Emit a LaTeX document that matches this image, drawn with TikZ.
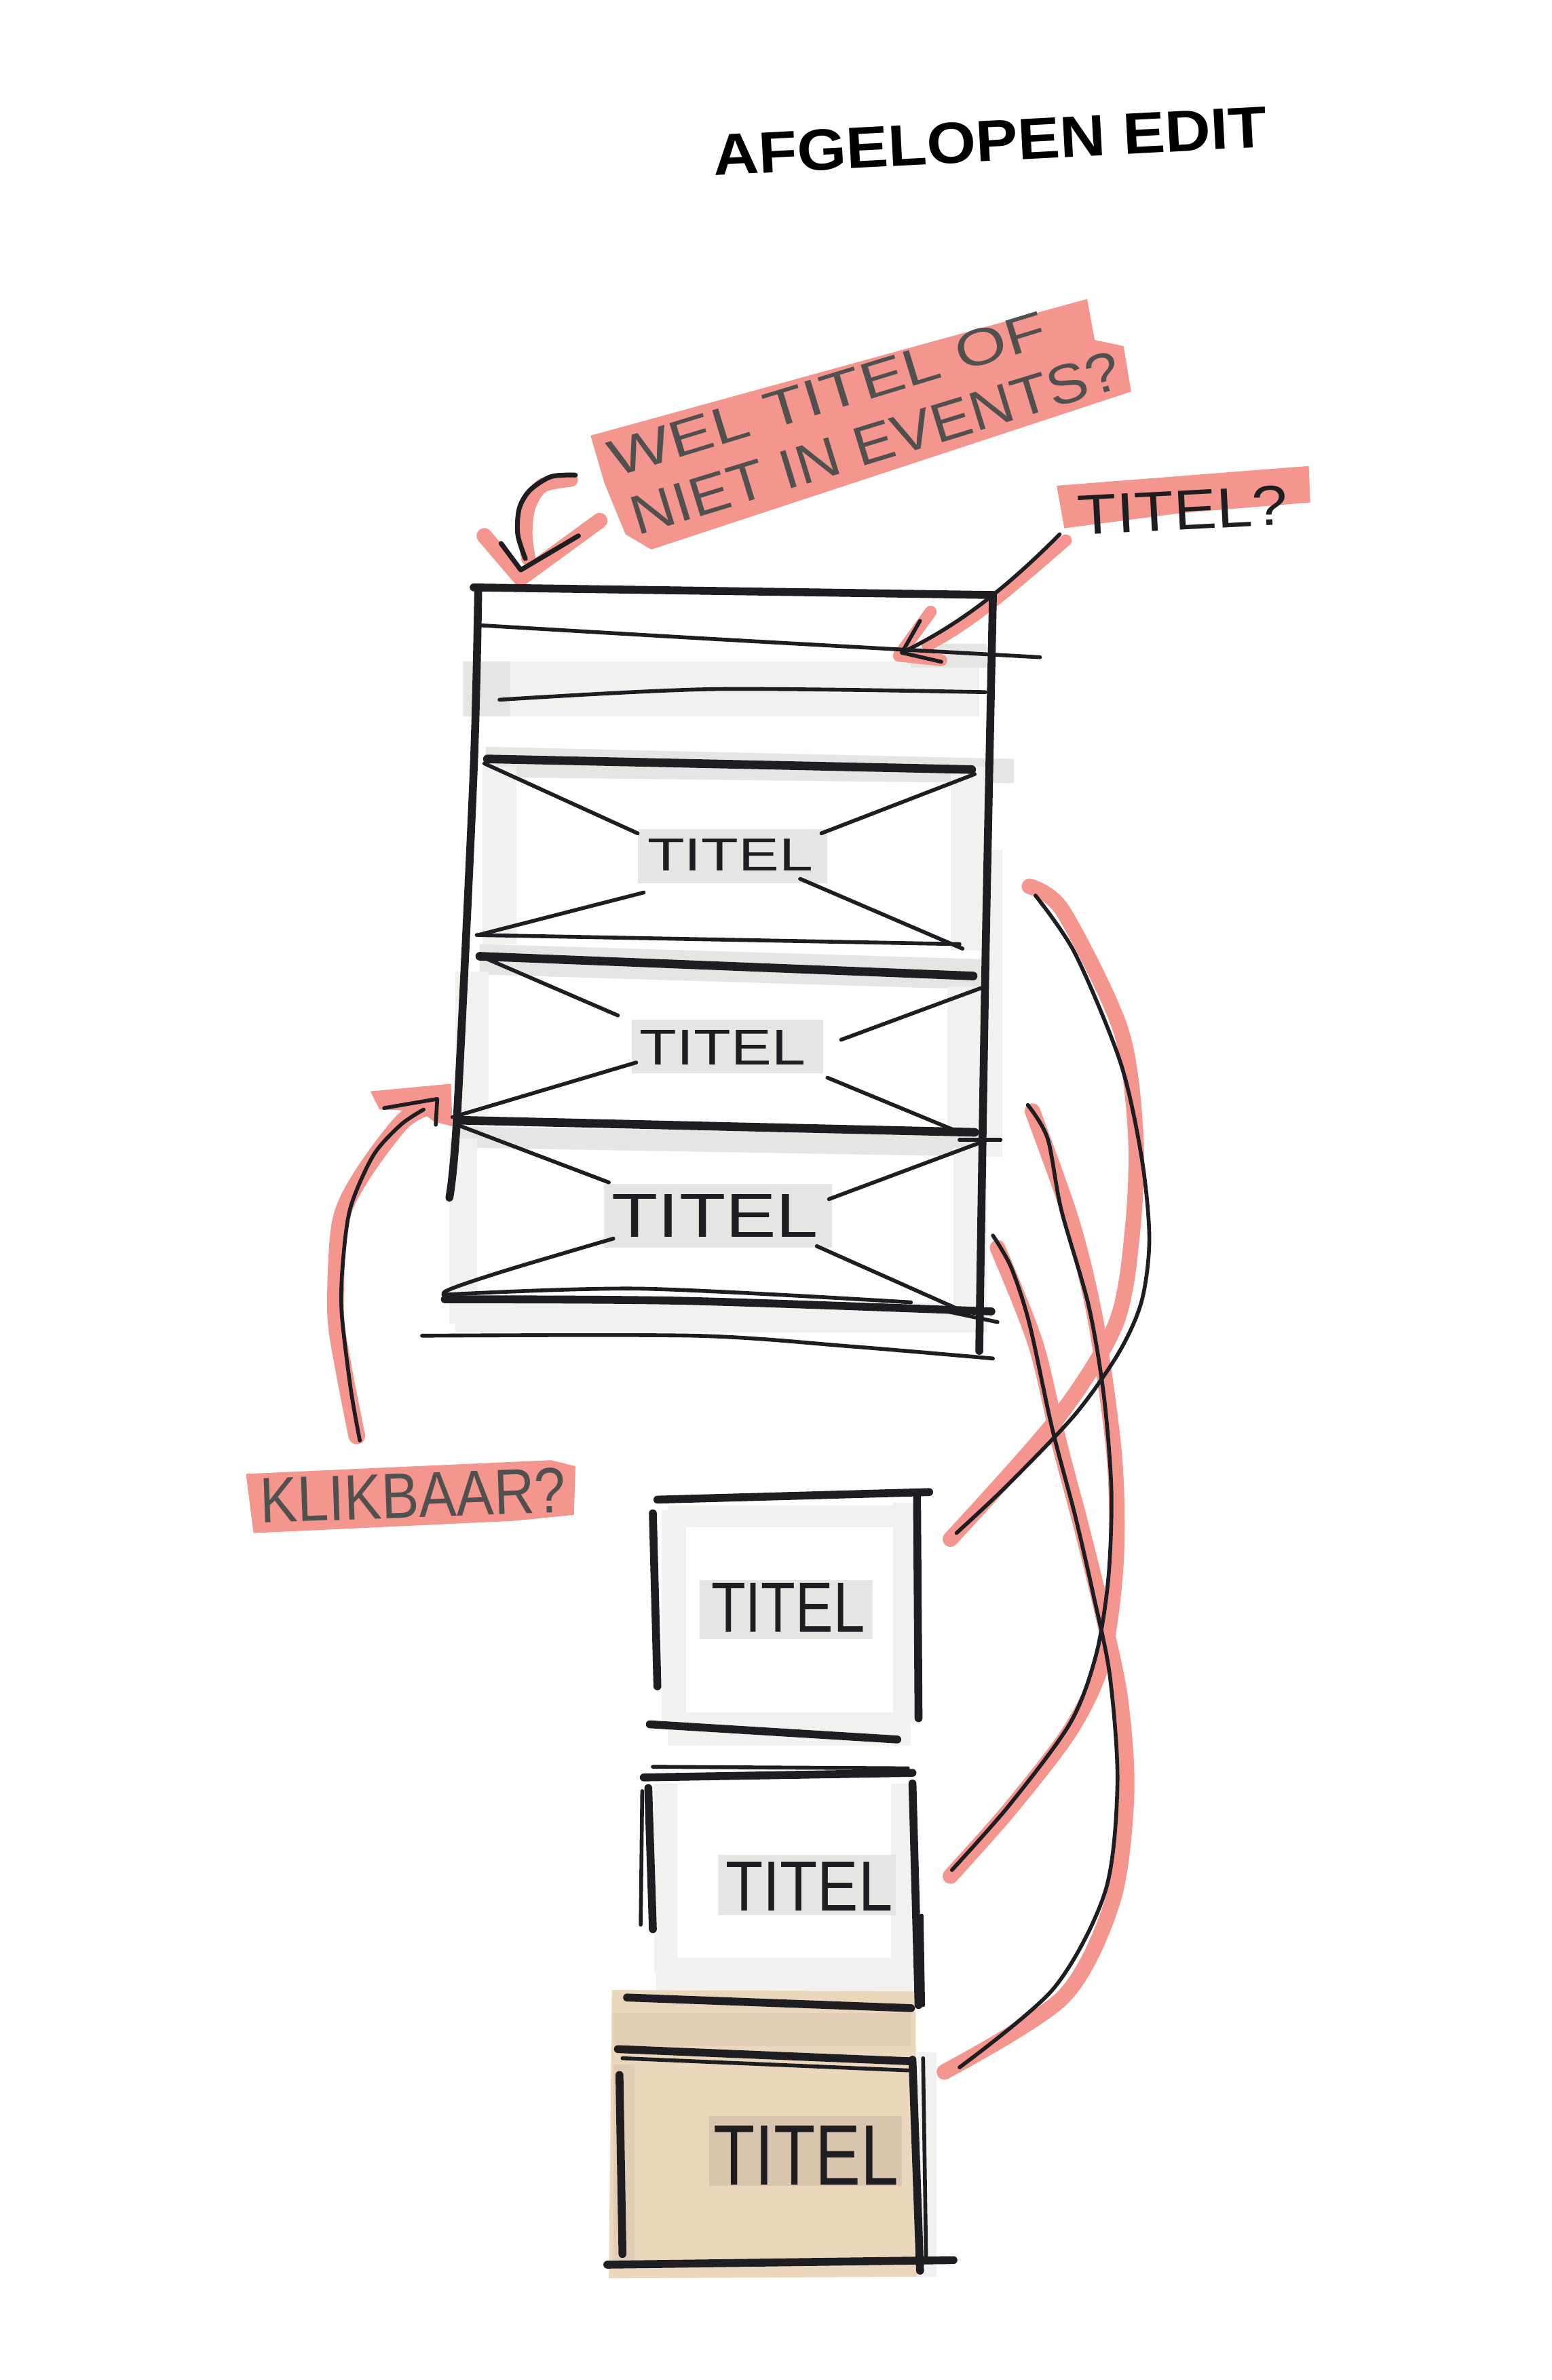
\documentclass[tikz,border=0pt]{standalone}
\usepackage{graphicx}
\usepackage{fontspec}
\setmainfont{Liberation Sans}
\setsansfont{Liberation Sans}
\definecolor{hl}{HTML}{F4958E}
\definecolor{shd}{HTML}{E5E5E3}
\definecolor{shdl}{HTML}{F1F1EF}
\definecolor{tanfill}{HTML}{EAD7BC}
\definecolor{tandk}{HTML}{D9C5AE}
\definecolor{inkc}{HTML}{1E1E22}
\definecolor{pgrey}{HTML}{505050}
\newcommand{\hwtext}[3]{\resizebox{#1}{#2}{#3}}
\begin{document}
\begin{tikzpicture}[x=0.02237cm,y=-0.02237cm,
  ink/.style={draw=inkc, line width=1.6pt, line cap=round, line join=round},
  inkb/.style={draw=inkc, line width=3.3pt, line cap=round, line join=round},
  hlstroke/.style={draw=hl, line width=6.5pt, line cap=round, line join=round},
  band/.style={fill=hl},
  shade/.style={fill=shd},
  shadel/.style={fill=shdl},
  lbl/.style={inner sep=0pt, outer sep=0pt, font=\sffamily}]
\useasboundingbox (0,0) rectangle (1022,1568);
\fill[white] (0,0) rectangle (1022,1568);

% ---------- title
\node[lbl, rotate=3] (title) at (652,93) {\hwtext{8.17cm}{0.6cm}{\bfseries AFGELOPEN EDIT}};

% ---------- grey marker shading, main box
\fill[shadel] (305,436) rectangle (645,472);
\fill[shade] (305,436) rectangle (336,472);
\fill[shade] (600,424) rectangle (650,440);
\fill[shade] (320,492) -- (668,500) -- (668,516) -- (320,512) -- cycle;
\fill[shadel] (318,505) rectangle (340,622);
\fill[shadel] (626,505) rectangle (650,626);
\fill[shade] (420,546) rectangle (545,582);
\fill[shade] (316,622) -- (650,632) -- (650,652) -- (316,642) -- cycle;
\fill[shadel] (300,640) rectangle (322,742);
\fill[shadel] (624,650) rectangle (650,746);
\fill[shade] (416,672) rectangle (542,707);
\fill[shadel] (646,560) rectangle (660,762);
\fill[shade] (300,742) -- (650,748) -- (650,762) -- (300,756) -- cycle;
\fill[shadel] (296,750) rectangle (314,872);
\fill[shadel] (628,756) rectangle (650,876);
\fill[shade] (398,780) rectangle (548,822);
\fill[shadel] (300,858) rectangle (650,878);

% ---------- grey shading, lower boxes
\fill[shadel] (436,995) rectangle (452,1135);
\fill[shadel] (440,992) rectangle (600,1006);
\fill[shadel] (588,990) rectangle (603,1135);
\fill[shadel] (440,1128) rectangle (600,1150);
\fill[shade] (461,1041) rectangle (575,1080);
\fill[shadel] (431,1175) rectangle (446,1300);
\fill[shadel] (587,1175) rectangle (601,1320);
\fill[shadel] (432,1290) rectangle (600,1312);
\fill[shade] (473,1222) rectangle (590,1262);
\fill[shadel] (604,1352) rectangle (617,1500);

% ---------- tan box background
\fill[tanfill] (403,1311) -- (603,1312) -- (604,1500) -- (401,1501) -- cycle;
\fill[tandk] (467,1394) rectangle (594,1440);
\fill[tandk, opacity=0.5] (404,1326) rectangle (600,1348);
\fill[tandk, opacity=0.5] (404,1360) rectangle (418,1490);

% ---------- pink highlight bands
\fill[band] (389,287) -- (716,197) -- (721,224) -- (740,228) -- (745,258) -- (429,362) -- (412,352) -- (398,318) -- cycle;
\fill[band] (696,320) -- (862,307) -- (863,331) -- (778,338) -- (701,348) -- cycle;
\fill[band] (162,971) -- (363,962) -- (379,966) -- (378,998) -- (338,1002) -- (167,1010) -- cycle;

% ---------- label texts
\node[lbl, rotate=17, text=pgrey] (q1) at (569.5,273.4)
  {\vbox{\offinterlineskip\hbox{\hwtext{6.7cm}{0.53cm}{WEL TITEL OF}}\kern0.34cm\hbox{\kern0.07cm\hwtext{7.5cm}{0.57cm}{NIET IN EVENTS?}}}};
\node[lbl, rotate=3, text=inkc] (q2) at (779,336) {\hwtext{3.1cm}{0.58cm}{TITEL?}};
\node[lbl, rotate=2, text=pgrey] (q3) at (272,985) {\hwtext{4.5cm}{0.66cm}{KLIKBAAR?}};

% ---------- curved arrow at question 1
\draw[hlstroke, line width=6pt] plot[smooth] coordinates {(376,316) (357,320) (348,334) (346,352) (348,368)};
\draw[hlstroke] (319,353) -- (343,381) -- (395,343);
\draw[ink, line width=2pt] plot[smooth] coordinates {(379,313) (363,314) (349,323) (342,335) (341,352) (346,368)};
\draw[ink, line width=2pt] (330,358) -- (343,375.5) -- (381,353);

% ---------- arrow from TITEL?
\coordinate (q2s) at (698,352);
\coordinate (q2t) at (594,430);
\draw[hlstroke, line width=5pt] (702,356) .. controls (665,388) and (640,410) .. (611,425);
\draw[hlstroke, line width=5pt] (613,403) -- (592,432) -- (620,435);
\draw[ink] (q2s) .. controls (665,385) and (635,410) .. (q2t);
\draw[ink] (606,409) -- (q2t) -- (620,436);

% ---------- arrow from KLIKBAAR?
\coordinate (q3s) at (237,949);
\coordinate (q3t) at (288,724);
\draw[hlstroke, line width=7pt] plot[smooth] coordinates {(235,946) (226,900) (221,864) (224,806) (238,775) (266,738) (288,727)};
\fill[hl] (244,719) -- (297,714) -- (298,742) -- (286,739) -- (277,732) -- (250,731) -- cycle;
\draw[ink] plot[smooth] coordinates {(q3s) (231,915) (225,864) (226,830) (231,795) (246,761) (264,741) (279,731)};
\draw[ink] (253,730) -- (q3t) -- (287,741);

% ---------- main box
\draw[inkb] (312,387) -- (654,392);
\draw[inkb] plot[smooth] coordinates {(315,388) (312,507) (301,736) (296,789)};
\draw[inkb] plot[smooth] coordinates {(654,392) (649,638) (645,890)};
\draw[ink] plot[smooth] coordinates {(317,412) (470,421) (685,433)};
\draw[ink] plot[smooth] coordinates {(329,461) (470,454) (649,456)};
% item 1
\draw[inkb, line width=3.6pt] (321,500) -- (640,507);
\draw[ink] (319,503) -- (420,549);
\draw[ink] (541,549) -- (642,510);
\draw[ink] (315,616) -- (424,588);
\draw[ink] (527,579) -- (634,625);
\draw[ink] (314,616) -- (632,622);
\node[lbl, text=inkc] (t1) at (481,563) {\hwtext{2.44cm}{0.47cm}{TITEL}};
% item 2
\draw[inkb, line width=3.6pt] (316,630) -- (641,643);
\draw[ink] (319,631) -- (407,669);
\draw[ink] (554,685) -- (646,651);
\draw[ink] (298,736) -- (419,700);
\draw[ink] (545,710) -- (632,746);
\node[lbl, text=inkc] (t2) at (476,690) {\hwtext{2.44cm}{0.51cm}{TITEL}};
% item 3
\draw[inkb, line width=3.6pt] (301,738) -- (642,746);
\draw[ink] (632,751) -- (659,751);
\draw[ink] (301,741) -- (401,779);
\draw[ink] (546,790) -- (645,753);
\draw[ink] plot[smooth] coordinates {(404,816) (330,838) (293,851) (300,856)};
\draw[ink] (538,821) -- (630,862);
\draw[inkb] plot[smooth] coordinates {(293,856) (450,857) (653,864)};
\draw[ink] plot[smooth] coordinates {(292,853) (422,849) (600,858)};
\draw[ink] (624,864) -- (657,871);
\draw[ink] plot[smooth] coordinates {(278,880) (458,880) (560,887) (654,895)};
\node[lbl, text=inkc] (t3) at (471,801) {\hwtext{3.04cm}{0.63cm}{TITEL}};

% ---------- lower box 1
\draw[inkb] (433,988) -- (612,983);
\draw[inkb] (430,997) -- (433,1111);
\draw[inkb] (604,986) -- (605,1132);
\draw[inkb] (428,1136) -- (591,1146);
\node[lbl, text=inkc] (t4) at (519,1059) {\hwtext{2.26cm}{0.72cm}{TITEL}};
% ---------- lower box 2
\draw[inkb] (424,1171) -- (601,1168);
\draw[ink] (430,1164) -- (598,1165);
\draw[inkb] (427,1178) -- (430,1271);
\draw[ink] (423,1180) -- (422,1268);
\draw[inkb] (601,1175) -- (605,1321);
\draw[ink] (607,1262) -- (608,1321);
\node[lbl, text=inkc] (t5) at (533,1243) {\hwtext{2.46cm}{0.72cm}{TITEL}};
% ---------- lower box 3 (tan)
\draw[inkb] (413,1316) -- (600,1323);
\draw[inkb] (407,1350) -- (600,1358);
\draw[ink] (410,1356) -- (598,1364);
\draw[inkb] (408,1367) -- (410,1485);
\draw[inkb] (601,1357) -- (606,1496);
\draw[ink] (608,1356) -- (610,1490);
\draw[inkb] (400,1492) -- (628,1489);
\node[lbl, text=inkc] (t6) at (531,1420) {\hwtext{2.73cm}{0.87cm}{TITEL}};

% ---------- connectors items -> lower boxes
\coordinate (a1) at (682,590);  \coordinate (a2) at (630,1010);
\coordinate (b1) at (677,728);  \coordinate (b2) at (627,1232);
\coordinate (c1) at (654,814);  \coordinate (c2) at (632,1362);
\draw[hlstroke] plot[smooth] coordinates {(678,584) (700,600) (738,678) (748,747) (746,810) (735,872) (696,935) (626,1014)};
\draw[hlstroke] plot[smooth] coordinates {(680,732) (706,805) (722,872) (734,960) (735,1030) (726,1095) (705,1140) (665,1192) (626,1236)};
\draw[hlstroke] plot[smooth] coordinates {(657,822) (682,885) (698,952) (712,1005) (726,1062) (738,1120) (742,1182) (733,1252) (700,1316) (622,1365)};
\draw[ink] plot[smooth] coordinates {(a1) (708,628) (738,700) (752,763) (757,816) (752,857) (737,891) (708,932) (663,979) (a2)};
\draw[ink] plot[smooth] coordinates {(b1) (690,750) (699,797) (717,860) (727,919) (732,982) (730,1040) (722,1090) (705,1135) (665,1189) (b2)};
\draw[ink] plot[smooth] coordinates {(c1) (666,835) (678,872) (693,941) (708,998) (720,1050) (731,1104) (736,1175) (728,1246) (694,1310) (c2)};
\end{tikzpicture}
\end{document}
